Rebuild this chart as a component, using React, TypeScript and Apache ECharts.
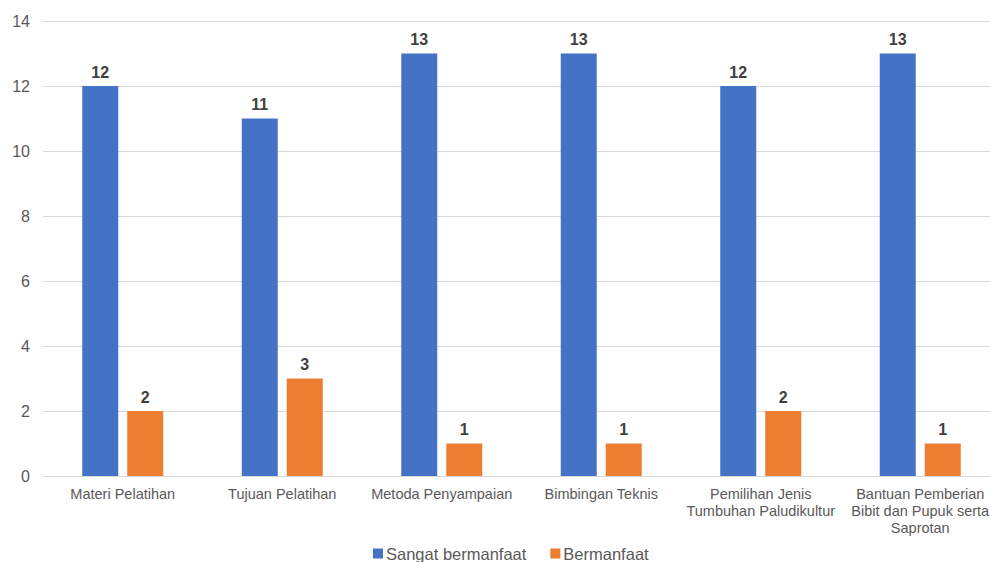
import React, { useEffect, useRef } from "react";
import * as echarts from "echarts";

const categories = [
  "Materi Pelatihan",
  "Tujuan Pelatihan",
  "Metoda Penyampaian",
  "Bimbingan Teknis",
  "Pemilihan Jenis\nTumbuhan Paludikultur",
  "Bantuan Pemberian\nBibit dan Pupuk serta\nSaprotan",
];
const sangatBermanfaat = [12, 11, 13, 13, 12, 13];
const bermanfaat = [2, 3, 1, 1, 2, 1];
const seriesNames = ["Sangat bermanfaat", "Bermanfaat"];

export default function App() {
  const ref = useRef<HTMLDivElement>(null);
  useEffect(() => {
    if (!ref.current) return;
    const chart = echarts.init(ref.current, null, { renderer: "svg" });
    const font = "Arial, 'Liberation Sans', sans-serif";
    const label = {
      show: true,
      position: "top",
      fontWeight: "bold",
      fontSize: 16,
      color: "#404040",
      fontFamily: font,
      distance: 6,
    };
    chart.setOption({
      animation: false,
      textStyle: { fontFamily: font },
      grid: { left: 43, top: 21, width: 957, height: 455, containLabel: false },
      legend: {
        left: 368,
        top: 540,
        itemWidth: 10,
        itemHeight: 10,
        itemGap: 24,
        icon: "rect",
        textStyle: { fontSize: 16.5, color: "#595959", fontFamily: font, padding: [0, 0, 0, -2] },
        data: seriesNames,
      },
      xAxis: {
        type: "category",
        data: categories,
        axisLine: { lineStyle: { color: "#d9d9d9" } },
        axisTick: { show: false },
        axisLabel: {
          color: "#595959",
          fontSize: 14.5,
          lineHeight: 17,
          margin: 9,
          interval: 0,
          fontFamily: font,
        },
      },
      yAxis: {
        type: "value",
        min: 0,
        max: 14,
        interval: 2,
        axisLine: { show: false },
        axisTick: { show: false },
        splitLine: { lineStyle: { color: "#d9d9d9" } },
        axisLabel: { color: "#595959", fontSize: 16, margin: 13, fontFamily: font },
      },
      series: [
        {
          name: seriesNames[0],
          type: "bar",
          data: sangatBermanfaat,
          barWidth: 36,
          barGap: "25%",
          itemStyle: { color: "#4472C4" },
          label,
        },
        {
          name: seriesNames[1],
          type: "bar",
          data: bermanfaat,
          barWidth: 36,
          barGap: "25%",
          itemStyle: { color: "#ED7D31" },
          label,
        },
      ],
    });
    return () => chart.dispose();
  }, []);
  return (
    <div style={{ width: 990, height: 562, position: "absolute", left: 0, top: 0, overflow: "hidden" }}>
      <div ref={ref} style={{ width: 1000, height: 562 }} />
    </div>
  );
}
